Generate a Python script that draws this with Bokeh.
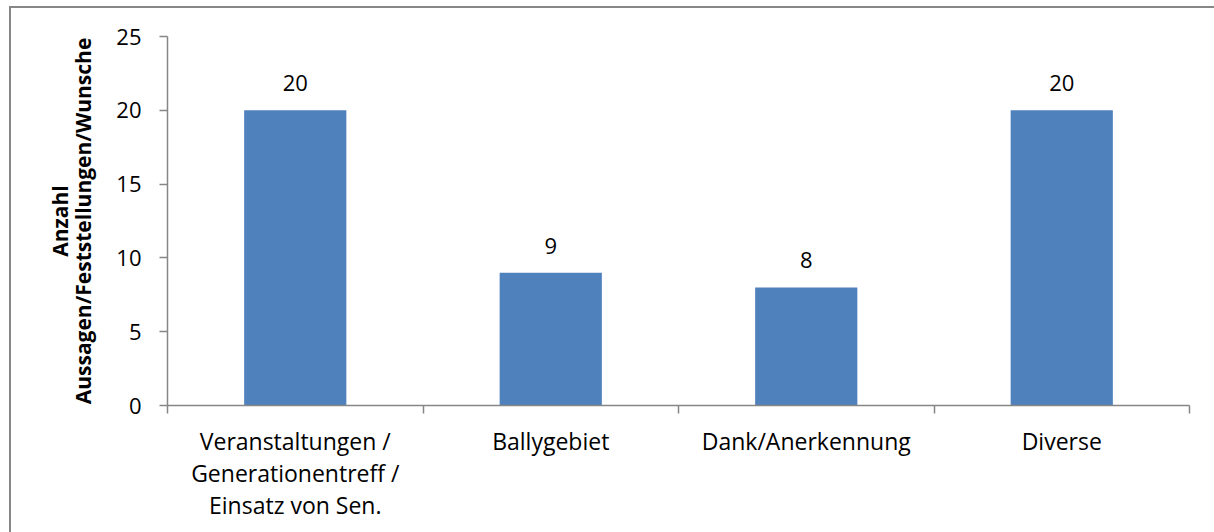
from bokeh.plotting import figure
from bokeh.models import FixedTicker, Range1d, ColumnDataSource
from bokeh.embed import file_html
from bokeh.resources import INLINE
from bokeh.core.properties import value

categories = ["Veranstaltungen /\nGenerationentreff /\nEinsatz von Sen.",
              "Ballygebiet", "Dank/Anerkennung", "Diverse"]
counts = [20, 9, 8, 20]
y_ticks = [0, 5, 10, 15, 20, 25]
y_title = "Anzahl\nAussagen/Feststellungen/Wunsche"

FONT = "Open Sans"
AXIS_COLOR = "#868686"
BAR_COLOR = "#4F81BD"

x_pos = [i + 0.5 for i in range(len(categories))]
bounds = [float(i) for i in range(len(categories) + 1)]
src = ColumnDataSource(dict(x=x_pos, top=counts, label=[str(c) for c in counts]))

p = figure(width=1205, height=526, output_backend="svg", toolbar_location=None,
           x_range=Range1d(0, len(categories)), y_range=Range1d(0, y_ticks[-1]),
           min_border_left=156, min_border_right=27, min_border_top=28,
           min_border_bottom=129,
           styles={"border-top": "2px solid #878787", "border-left": "2px solid #878787",
                   "margin-left": "9px", "margin-top": "6px"})

p.vbar(x="x", top="top", width=0.4, source=src, fill_color=BAR_COLOR, line_color=None)
p.text(x="x", y="top", text="label", source=src, text_align="center",
       text_baseline="alphabetic", y_offset=-27, text_font=value(FONT),
       text_font_size="22px", text_color="black")

p.grid.visible = False
p.outline_line_color = None
p.background_fill_color = "white"
p.border_fill_color = "white"

xa = p.xaxis[0]
xa.ticker = FixedTicker(ticks=x_pos, minor_ticks=bounds)
xa.major_label_overrides = {x: c for x, c in zip(x_pos, categories)}
xa.major_tick_out = 0
xa.major_tick_in = 0
xa.minor_tick_out = 8
xa.minor_tick_in = 0
xa.minor_tick_line_color = AXIS_COLOR
xa.minor_tick_line_width = 1.5
xa.axis_line_color = AXIS_COLOR
xa.axis_line_width = 1.5
xa.major_label_text_font = FONT
xa.major_label_text_font_size = "23px"
xa.major_label_text_color = "black"
xa.major_label_standoff = 11
xa.major_label_text_line_height = 1.0

ya = p.yaxis[0]
ya.ticker = FixedTicker(ticks=y_ticks)
ya.major_tick_out = 8
ya.major_tick_in = 0
ya.minor_tick_out = 0
ya.minor_tick_in = 0
ya.major_tick_line_color = AXIS_COLOR
ya.major_tick_line_width = 1.5
ya.axis_line_color = AXIS_COLOR
ya.axis_line_width = 1.5
ya.major_label_text_font = FONT
ya.major_label_text_font_size = "22px"
ya.major_label_text_color = "black"
ya.major_label_standoff = 18
ya.axis_label = y_title
ya.axis_label_text_font = FONT
ya.axis_label_text_font_size = "21px"
ya.axis_label_text_font_style = "bold"
ya.axis_label_text_color = "black"
ya.axis_label_text_line_height = 0.84
ya.axis_label_standoff = 16

open("out.html", "w").write(file_html(p, INLINE))
